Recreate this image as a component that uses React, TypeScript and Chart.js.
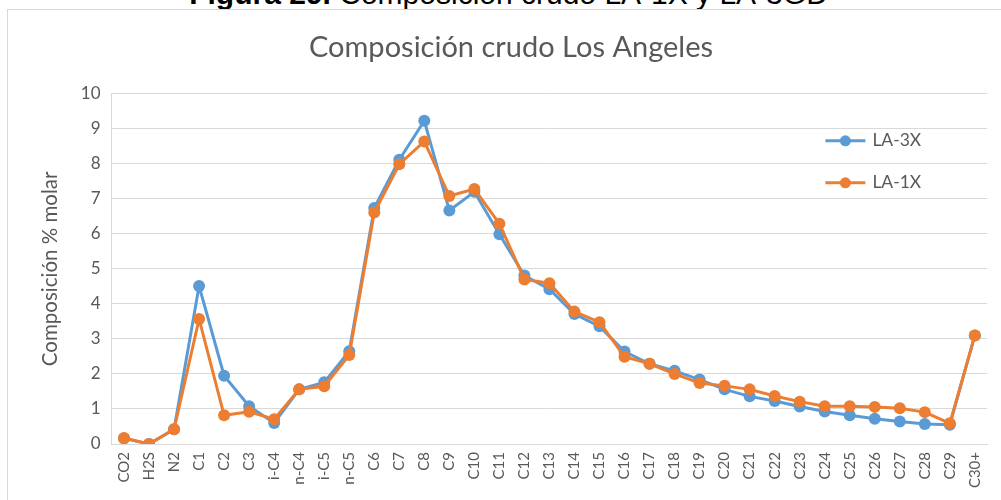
import React, { useEffect, useRef } from "react";
import { Chart, registerables } from "chart.js";

Chart.register(...registerables);

const categories = [
  "CO2", "H2S", "N2", "C1", "C2", "C3", "i-C4", "n-C4", "i-C5", "n-C5",
  "C6", "C7", "C8", "C9", "C10", "C11", "C12", "C13", "C14", "C15",
  "C16", "C17", "C18", "C19", "C20", "C21", "C22", "C23", "C24", "C25",
  "C26", "C27", "C28", "C29", "C30+",
];

const la3x = [
  0.16, 0.0, 0.42, 4.51, 1.95, 1.08, 0.6, 1.56, 1.76, 2.65,
  6.74, 8.12, 9.23, 6.67, 7.2, 5.99, 4.81, 4.42, 3.71, 3.36,
  2.64, 2.29, 2.09, 1.84, 1.56, 1.36, 1.23, 1.07, 0.93, 0.82,
  0.72, 0.64, 0.57, 0.55, 3.1,
];

const la1x = [
  0.17, 0.0, 0.42, 3.57, 0.82, 0.92, 0.71, 1.56, 1.65, 2.54,
  6.61, 7.99, 8.64, 7.08, 7.28, 6.29, 4.7, 4.59, 3.78, 3.48,
  2.49, 2.29, 2.0, 1.74, 1.66, 1.56, 1.37, 1.21, 1.08, 1.08,
  1.06, 1.02, 0.91, 0.59, 3.1,
];

const seriesNames = ["LA-3X", "LA-1X"];
const seriesColors = ["#5B9BD5", "#ED7D31"];
const seriesOrder = [1, 0];

const yMin = 0;
const yMax = 10;
const yStep = 1;

const chartTitle = "Composición crudo Los Angeles";
const yAxisTitle = "Composición % molar";
const captionBold = "Figura 29.";
const captionRest = " Composición crudo LA-1X y LA-3GD";

const FONT = "Lato";
const TEXT = "#595959";
const GRID = "#d9d9d9";

const legendPlugin = {
  id: "insideLegend",
  afterDatasetsDraw(chart: any) {
    const { ctx, chartArea } = chart;
    const x0 = chartArea.right - 162;
    const y0 = chartArea.top + 47;
    chart.data.datasets.forEach((ds: any, i: number) => {
      const y = y0 + i * 42;
      ctx.save();
      ctx.strokeStyle = ds.borderColor;
      ctx.lineWidth = 3;
      ctx.beginPath();
      ctx.moveTo(x0, y);
      ctx.lineTo(x0 + 40, y);
      ctx.stroke();
      ctx.fillStyle = ds.pointBackgroundColor;
      ctx.beginPath();
      ctx.arc(x0 + 20, y, 5.5, 0, Math.PI * 2);
      ctx.fill();
      ctx.fillStyle = TEXT;
      ctx.font = `17.5px ${FONT}`;
      ctx.textAlign = "left";
      ctx.textBaseline = "middle";
      ctx.fillText(ds.label, x0 + 47, y);
      ctx.restore();
    });
  },
};

export default function App() {
  const canvasRef = useRef<HTMLCanvasElement | null>(null);

  useEffect(() => {
    if (!canvasRef.current) return;
    const chart = new Chart(canvasRef.current, {
      type: "line",
      data: {
        labels: categories,
        datasets: [la3x, la1x].map((vals, i) => ({
          label: seriesNames[i],
          data: vals,
          order: seriesOrder[i],
          borderColor: seriesColors[i],
          backgroundColor: seriesColors[i],
          pointBackgroundColor: seriesColors[i],
          pointBorderColor: seriesColors[i],
          borderWidth: 3,
          pointRadius: 6,
          pointBorderWidth: 0,
          tension: 0,
        })),
      },
      options: {
        animation: false,
        responsive: false,
        layout: { padding: { left: 30.5, right: 9.5, top: 0, bottom: 0 } },
        plugins: {
          legend: { display: false },
          tooltip: { enabled: false },
          title: {
            display: true,
            text: chartTitle,
            color: TEXT,
            font: { family: FONT, size: 29, weight: "normal" },
            padding: { top: 30, bottom: 29 },
          },
        },
        scales: {
          x: {
            offset: true,
            grid: { display: false, drawTicks: false },
            border: { display: true, color: GRID, width: 1 },
            ticks: {
              autoSkip: false,
              minRotation: 90,
              maxRotation: 90,
              padding: 8,
              color: TEXT,
              font: { family: FONT, size: 15 },
            },
            afterFit: (s: any) => {
              s.height = 56;
            },
          },
          y: {
            min: yMin,
            max: yMax,
            ticks: {
              stepSize: yStep,
              padding: 11,
              color: TEXT,
              font: { family: FONT, size: 17 },
            },
            grid: { color: GRID, lineWidth: 1, drawTicks: false },
            border: { display: true, color: GRID, width: 1 },
            title: {
              display: true,
              text: yAxisTitle,
              color: TEXT,
              font: { family: FONT, size: 20.5 },
              padding: { top: 8, bottom: 0 },
            },
            afterFit: (s: any) => {
              s.width = 81;
            },
          },
        },
      },
      plugins: [legendPlugin],
    });
    return () => chart.destroy();
  }, []);

  return (
    <div
      style={{
        position: "fixed",
        left: 0,
        top: 0,
        width: 1001,
        height: 500,
        overflow: "hidden",
        background: "#ffffff",
      }}
    >
      <div
        style={{
          position: "absolute",
          left: 8,
          width: 1001,
          top: -21,
          textAlign: "center",
          fontFamily: "'Liberation Sans', Arial, sans-serif",
          fontSize: 30,
          lineHeight: "30px",
          color: "#000",
          whiteSpace: "nowrap",
        }}
      >
        <b>{captionBold}</b>
        {captionRest}
      </div>
      <div
        style={{
          position: "absolute",
          left: 7,
          top: 9,
          width: 1020,
          height: 520,
          border: `1px solid ${GRID}`,
          boxSizing: "border-box",
        }}
      />
      <canvas
        ref={canvasRef}
        width={1001}
        height={500}
        style={{ position: "absolute", left: 0, top: 0, width: 1001, height: 500 }}
      />
    </div>
  );
}
